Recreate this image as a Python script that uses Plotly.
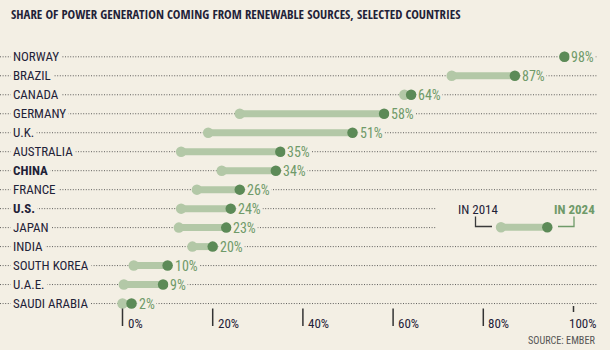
import plotly.graph_objects as go

# ---------------- data ----------------
countries = ["NORWAY", "BRAZIL", "CANADA", "GERMANY", "U.K.", "AUSTRALIA", "CHINA",
             "FRANCE", "U.S.", "JAPAN", "INDIA", "SOUTH KOREA", "U.A.E.", "SAUDI ARABIA"]
bold_countries = ["CHINA", "U.S."]
share_2014 = [98, 73, 62.5, 26, 19, 13, 22, 16.5, 13, 12.5, 15.5, 2.5, 0.3, 0]
share_2024 = [98, 87, 64, 58, 51, 35, 34, 26, 24, 23, 20, 10, 9, 2]
tick_values = [0, 20, 40, 60, 80, 100]
tick_labels = ["0%", "20%", "40%", "60%", "80%", "100%"]

title = "SHARE OF POWER GENERATION COMING FROM RENEWABLE SOURCES, SELECTED COUNTRIES"
source = "SOURCE: EMBER"
legend_labels = ["IN 2014", "IN 2024"]

# ---------------- style ----------------
W, H = 610, 350
BG = "#f3efe4"
LIGHT = "#b3c8a7"
DARK = "#5c8a57"
VAL = "#6f9a69"
INK = "#1f2238"
FONT = "Roboto Condensed, Liberation Sans Narrow, Roboto, Arial, sans-serif"
TITLE_FONT = "Open Sans Condensed, Roboto Condensed, Roboto, sans-serif"

def px(x):
    return x / W

def py(y):
    return 1 - y / H

fig = go.Figure()

# bars 2014 -> 2024
for c, a, b in zip(countries, share_2014, share_2024):
    fig.add_trace(go.Scatter(x=[a, b], y=[c, c], mode="lines",
                             line=dict(color=LIGHT, width=7), hoverinfo="skip",
                             showlegend=False))
fig.add_trace(go.Scatter(x=share_2014, y=countries, mode="markers",
                         marker=dict(color=LIGHT, size=10.5, line=dict(width=0)),
                         showlegend=False, name="2014"))
fig.add_trace(go.Scatter(x=share_2024, y=countries, mode="markers",
                         marker=dict(color=DARK, size=10.5, line=dict(width=0)),
                         showlegend=False, name="2024"))

shapes = []
annotations = []

# dotted guide lines
for c in countries:
    shapes.append(dict(type="line", xref="paper", yref="y", x0=0.0, x1=px(597),
                       y0=c, y1=c, layer="below",
                       line=dict(color="#3a3a3a", width=0.8, dash="1px,1.6px")))

# legend cover box
shapes.append(dict(type="rect", xref="paper", yref="paper", x0=px(436), x1=px(601),
                   y0=py(238), y1=py(199), fillcolor=BG, line=dict(width=0), layer="below"))

# legend sample
shapes.append(dict(type="line", xref="paper", yref="paper", x0=px(501), x1=px(547),
                   y0=py(227.3), y1=py(227.3), line=dict(color=LIGHT, width=7)))
shapes.append(dict(type="circle", xref="paper", yref="paper", x0=px(495.8), x1=px(506.2),
                   y0=py(232.5), y1=py(222.1), fillcolor=LIGHT, line=dict(width=0)))
shapes.append(dict(type="circle", xref="paper", yref="paper", x0=px(542.1), x1=px(552.5),
                   y0=py(232.5), y1=py(222.1), fillcolor=DARK, line=dict(width=0)))
# brackets
shapes.append(dict(type="path", xref="paper", yref="paper",
                   path=f"M {px(475.5)} {py(216.5)} L {px(475.5)} {py(226.5)} L {px(492)} {py(226.5)}",
                   line=dict(color="#3a3a3a", width=1.3)))
shapes.append(dict(type="path", xref="paper", yref="paper",
                   path=f"M {px(558)} {py(226.5)} L {px(574)} {py(226.5)} L {px(574)} {py(216.5)}",
                   line=dict(color=VAL, width=1.3)))
annotations.append(dict(text=legend_labels[0], xref="paper", yref="paper", x=px(456), y=py(209),
                        xanchor="left", yanchor="middle", showarrow=False,
                        font=dict(family=FONT, size=13, color=INK)))
annotations.append(dict(text="<b>" + legend_labels[1] + "</b>", xref="paper", yref="paper",
                        x=px(597), y=py(209), xanchor="right", yanchor="middle", showarrow=False,
                        font=dict(family=FONT, size=13, color=VAL)))

# country labels
for c in countries:
    t = f"<b>{c}</b>" if c in bold_countries else c
    annotations.append(dict(text=t, xref="paper", yref="y", x=px(10), y=c,
                            xanchor="left", yanchor="middle", showarrow=False,
                            bgcolor=BG, borderpad=2,
                            font=dict(family=FONT, size=13, color=INK)))

# value labels
for c, v in zip(countries, share_2024):
    annotations.append(dict(text=f"{v:.0f}%", xref="x", yref="y", x=v, y=c,
                            xanchor="left", yanchor="middle", showarrow=False, xshift=5,
                            bgcolor=BG, borderpad=1,
                            font=dict(family=FONT, size=14, color=VAL)))

# x ticks
for i, (v, lab) in enumerate(zip(tick_values, tick_labels)):
    last = i == len(tick_values) - 1
    shapes.append(dict(type="line", xref="x", yref="paper", x0=v, x1=v,
                       y0=py(312 if last else 326), y1=py(306 if last else 308.5),
                       line=dict(color="#333333", width=1.5)))
    annotations.append(dict(text=lab, xref="x", yref="paper", x=v, y=py(323),
                            xanchor="left", yanchor="middle", showarrow=False,
                            xshift=(-7 if last else 3),
                            font=dict(family=FONT, size=13, color=INK)))

# title and source
annotations.append(dict(text="<b>" + title + "</b>", xref="paper", yref="paper",
                        x=px(9), y=py(14), xanchor="left", yanchor="middle", showarrow=False,
                        font=dict(family=TITLE_FONT, size=12.8, color=INK)))
annotations.append(dict(text=source, xref="paper", yref="paper", x=px(597), y=py(340),
                        xanchor="right", yanchor="middle", showarrow=False,
                        font=dict(family=FONT, size=10.2, color="#555555")))

# axis scales: 0% at 122.5px, 100% at 573.5px; rows from 56.8px every 18.98px
sx = 4.51
x0p = 122.5
row0, dy = 56.8, 18.98

fig.update_layout(
    width=W, height=H, autosize=False,
    margin=dict(l=0, r=0, t=0, b=0),
    paper_bgcolor=BG, plot_bgcolor=BG,
    shapes=shapes, annotations=annotations,
    xaxis=dict(range=[-x0p / sx, (W - x0p) / sx], visible=False, fixedrange=True),
    yaxis=dict(type="category", categoryarray=countries,
               range=[(H - row0) / dy, -row0 / dy], visible=False, fixedrange=True),
    showlegend=False,
)

fig.write_html("out.html")
